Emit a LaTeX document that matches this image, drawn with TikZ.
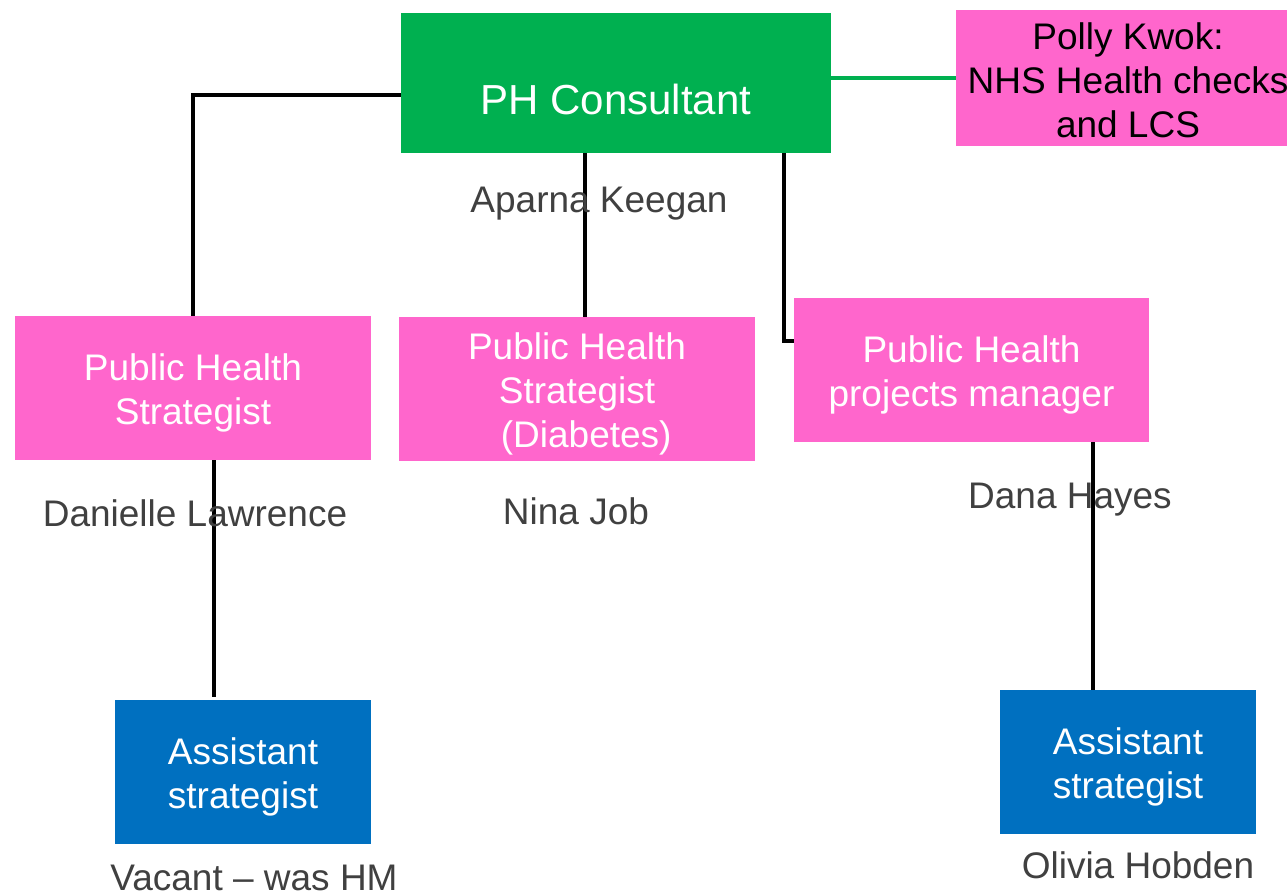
\documentclass[tikz,border=0pt]{standalone}
\usepackage{fontspec}
\setmainfont{Liberation Sans}
\definecolor{phgreen}{HTML}{00B050}
\definecolor{phpink}{HTML}{FF66CC}
\definecolor{phblue}{HTML}{0070C0}
\definecolor{namegray}{HTML}{404040}
\newcommand{\tallstrut}{\rule{0pt}{37pt}}
\begin{document}
\begin{tikzpicture}[x=1pt,y=-1pt,
  box/.style={rectangle, inner sep=0pt, align=center, font=\fontsize{37}{44}\selectfont},
  pinkbox/.style={box, fill=phpink, text=white, minimum width=356pt, minimum height=144pt},
  bluebox/.style={box, fill=phblue, text=white, minimum width=256pt, minimum height=144pt},
  person/.style={anchor=base, inner sep=0pt, text=namegray, font=\fontsize{37}{44}\selectfont},
  link/.style={draw=black, line width=4.5pt},
  greenlink/.style={draw=phgreen, line width=3.5pt}]
\clip (0,0) rectangle (1287,893);
\fill[white] (0,0) rectangle (1287,893);

% boxes
\node[box, fill=phgreen, text=white, minimum width=430pt, minimum height=140pt,
      font=\fontsize{42}{50}\selectfont, text height=70pt, text depth=6pt] (PH) at (616,83) {PH Consultant};
\node[box, fill=phpink, text=black, minimum width=344pt, minimum height=136pt] (polly) at (1128,78)
  {\rule{0pt}{31pt}Polly Kwok:\\NHS Health checks\\and LCS};
\node[pinkbox] (ls) at (193,388) {\tallstrut Public Health\\Strategist};
\node[pinkbox] (ms) at (577,389) {\tallstrut Public Health\\Strategist\\\hspace*{0.5em}(Diabetes)};
\node[pinkbox, minimum width=355pt] (pm) at (971.5,370) {\tallstrut Public Health\\projects manager};
\node[bluebox] (bl) at (243,772) {\rule{0pt}{37pt}Assistant\\strategist};
\node[bluebox] (br) at (1128,762) {\rule{0pt}{37pt}Assistant\\strategist};

% connectors
\draw[greenlink] (polly.west) -- (polly.west -| PH.east);
\draw[link] ([yshift=-12pt]PH.west) -| (ls.north);
\draw[link] ([xshift=8pt]ms.north) -- ([xshift=8pt]ms.north |- PH.south);
\draw[link] ([xshift=168pt]PH.south) |- ([yshift=29pt]pm.west);
\draw[link, shorten >=3pt] ([xshift=21pt]ls.south) -- ([xshift=21pt]ls.south |- bl.north);
\draw[link] ([xshift=121.5pt]pm.south) -- ([xshift=121.5pt]pm.south |- br.north);

% names
\node[person] (aparna) at (599,212.5) {Aparna Keegan};
\node[person] (danielle) at (195,526) {Danielle Lawrence};
\node[person] (nina) at (576,524) {Nina Job};
\node[person] (dana) at (1070,508) {Dana Hayes};
\node[person] (vacant) at (254,890.5) {Vacant – was HM};
\node[person] (olivia) at (1138,878) {Olivia Hobden};
\end{tikzpicture}
\end{document}
